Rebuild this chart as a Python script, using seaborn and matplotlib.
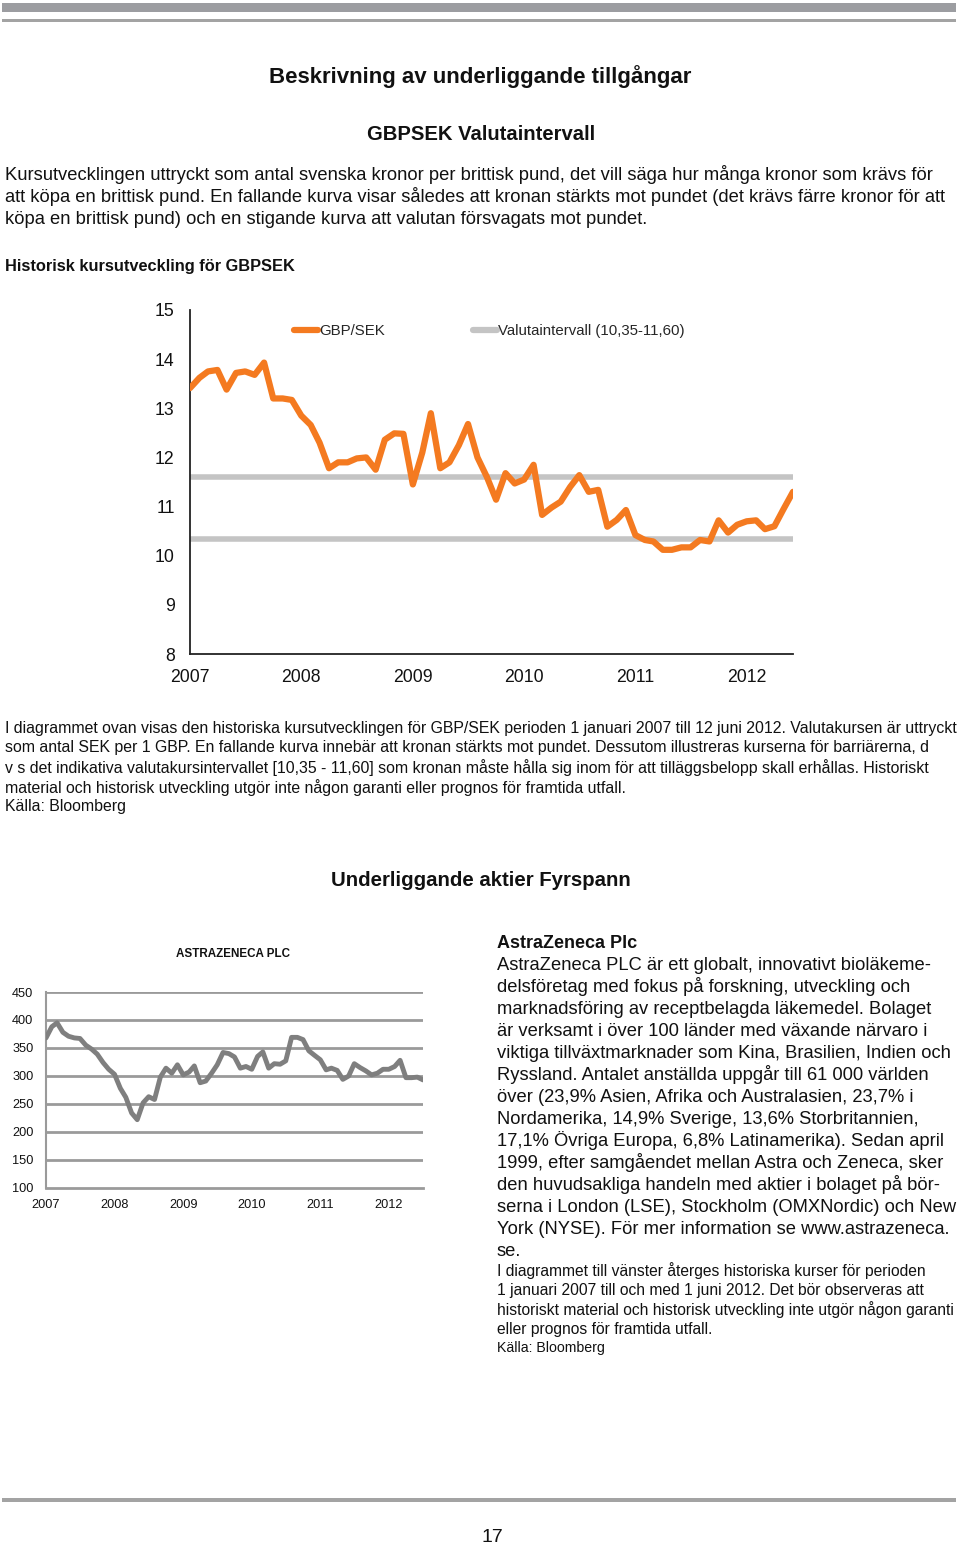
import numpy as np
import pandas as pd
import matplotlib
matplotlib.use("Agg")
import matplotlib.pyplot as plt
import seaborn as sns
from matplotlib.lines import Line2D
from matplotlib.patches import Rectangle

# ---------------- data ----------------
gbpsek_values = [13.41, 13.62, 13.75, 13.78, 13.38, 13.72, 13.75, 13.68, 13.93, 13.20,
                 13.20, 13.17, 12.85, 12.66, 12.30, 11.78, 11.90, 11.90, 11.98, 12.00,
                 11.75, 12.36, 12.49, 12.48, 11.45, 12.10, 12.90, 11.78, 11.90, 12.25,
                 12.68, 12.00, 11.60, 11.14, 11.68, 11.47, 11.55, 11.85, 10.83, 10.98,
                 11.10, 11.40, 11.64, 11.30, 11.34, 10.59, 10.73, 10.93, 10.42, 10.32,
                 10.29, 10.12, 10.12, 10.17, 10.17, 10.32, 10.29, 10.72, 10.47, 10.63,
                 10.70, 10.72, 10.54, 10.60, 10.95, 11.30]
gbpsek_dates = pd.date_range("2007-01-01", periods=len(gbpsek_values), freq="MS")
interval_low = 10.35
interval_high = 11.60
gbpsek_yticks = [8, 9, 10, 11, 12, 13, 14, 15]

azn_values = [368, 388, 395, 378, 371, 368, 367, 355, 348, 339,
              324, 312, 303, 278, 262, 234, 222, 252, 263, 258,
              298, 314, 305, 320, 302, 307, 318, 288, 291, 305,
              320, 342, 340, 334, 314, 317, 312, 335, 343, 314,
              322, 321, 327, 369, 369, 365, 345, 337, 329, 311,
              314, 310, 294, 300, 322, 315, 309, 302, 305, 312,
              312, 317, 328, 297, 297, 298, 293]
azn_dates = pd.date_range("2007-01-01", periods=len(azn_values), freq="MS")
azn_yticks = [100, 150, 200, 250, 300, 350, 400, 450]
year_ticks = [2007, 2008, 2009, 2010, 2011, 2012]

# ---------------- figure ----------------
W, H = 960, 1547
sns.set_style("white")
plt.rcParams["font.family"] = ["Liberation Sans", "DejaVu Sans"]
fig = plt.figure(figsize=(W / 100, H / 100), dpi=100)
fig.patch.set_facecolor("white")


def T(x, y, s, size, weight="normal", ha="left", va="center", color="#111111", **kw):
    return fig.text(x / W, 1 - y / H, s, fontsize=size, fontweight=weight, ha=ha, va=va,
                    color=color, **kw)


def rect(x0, y0, x1, y1, color):
    fig.patches.append(Rectangle((x0 / W, 1 - y1 / H), (x1 - x0) / W, (y1 - y0) / H,
                                 transform=fig.transFigure, color=color, lw=0))


def ax_box(l, t, r, b):
    return fig.add_axes([l / W, 1 - b / H, (r - l) / W, (b - t) / H])


# header / footer rules
rect(2, 3, 956, 12, "#9c9da1")
rect(2, 19, 956, 22, "#a3a3a3")
rect(2, 1498, 956, 1502, "#a3a3a3")

# titles
T(480, 77, "Beskrivning av underliggande tillgångar", 16, "bold", ha="center")
T(481, 135, "GBPSEK Valutaintervall", 14.6, "bold", ha="center")

para1 = ["Kursutvecklingen uttryckt som antal svenska kronor per brittisk pund, det vill säga hur många kronor som krävs för",
         "att köpa en brittisk pund. En fallande kurva visar således att kronan stärkts mot pundet (det krävs färre kronor för att",
         "köpa en brittisk pund) och en stigande kurva att valutan försvagats mot pundet."]
for i, line in enumerate(para1):
    T(5, 175 + 22 * i, line, 13.2)

T(5, 267, "Historisk kursutveckling för GBPSEK", 11.8, "bold")

# ---------------- GBPSEK chart ----------------
ax1 = ax_box(190, 310, 793, 654)
orange = "#f47a20"
grey_band = "#c4c4c4"
ax1.axhline(interval_high, color=grey_band, lw=4, solid_capstyle="butt", zorder=1)
ax1.axhline(interval_low, color=grey_band, lw=4, solid_capstyle="butt", zorder=1)
sns.lineplot(x=gbpsek_dates, y=gbpsek_values, ax=ax1, color=orange, lw=4.5,
             solid_joinstyle="round", solid_capstyle="round", zorder=3)
ax1.set_xlim(gbpsek_dates[0], gbpsek_dates[-1])
ax1.set_ylim(gbpsek_yticks[0], gbpsek_yticks[-1])
ax1.set_yticks(gbpsek_yticks)
ax1.set_yticklabels([str(v) for v in gbpsek_yticks])
ax1.set_xticks([pd.Timestamp(f"{y}-01-01") for y in year_ticks])
ax1.set_xticklabels([str(y) for y in year_ticks])
ax1.set_xlabel("")
ax1.set_ylabel("")
for s in ["top", "right"]:
    ax1.spines[s].set_visible(False)
for s in ["left", "bottom"]:
    ax1.spines[s].set_color("#222222")
    ax1.spines[s].set_linewidth(1.3)
ax1.tick_params(axis="both", direction="out", length=5, width=1.3, color="#222222",
                labelsize=12.7, labelcolor="#111111")
ax1.tick_params(axis="y", pad=6)
ax1.tick_params(axis="x", pad=6)
ax1.grid(False)
ax1.set_facecolor("white")

handles = [Line2D([0], [0], color=orange, lw=4.5, solid_capstyle="round"),
           Line2D([0], [0], color=grey_band, lw=4.5, solid_capstyle="round")]
ax1.legend(handles, ["GBP/SEK", "Valutaintervall (10,35-11,60)"], ncol=2, frameon=False,
           loc="center left", bbox_to_anchor=(294 / W, 1 - 331 / H),
           bbox_transform=fig.transFigure, fontsize=10.8, handlelength=1.6,
           handletextpad=0.05, columnspacing=5.9, borderaxespad=0, borderpad=0)

para2 = ["I diagrammet ovan visas den historiska kursutvecklingen för GBP/SEK perioden 1 januari 2007 till 12 juni 2012. Valutakursen är uttryckt",
         "som antal SEK per 1 GBP. En fallande kurva innebär att kronan stärkts mot pundet. Dessutom illustreras kurserna för barriärerna, d",
         "v s det indikativa valutakursintervallet [10,35 - 11,60] som kronan måste hålla sig inom för att tilläggsbelopp skall erhållas. Historiskt",
         "material och historisk utveckling utgör inte någon garanti eller prognos för framtida utfall.",
         "Källa: Bloomberg"]
for i, line in enumerate(para2):
    T(5, 728 + 19.7 * i, line, 11.4)

T(481, 880, "Underliggande aktier Fyrspann", 14.7, "bold", ha="center")

# ---------------- AstraZeneca chart ----------------
T(233, 954, "ASTRAZENECA PLC", 8.4, "bold", ha="center")
ax2 = ax_box(46, 992, 423, 1188)
grid_c = "#9a9a9a"
for v in azn_yticks[1:]:
    ax2.axhline(v, color=grid_c, lw=2, zorder=1)
sns.lineplot(x=azn_dates, y=azn_values, ax=ax2, color="#7f7f7f", lw=3.5,
             solid_joinstyle="round", zorder=3)
ax2.set_xlim(azn_dates[0], azn_dates[-1])
ax2.set_ylim(azn_yticks[0], azn_yticks[-1])
ax2.set_yticks(azn_yticks)
ax2.set_yticklabels([str(v) for v in azn_yticks])
ax2.set_xticks([pd.Timestamp(f"{y}-01-01") for y in year_ticks])
ax2.set_xticklabels([str(y) for y in year_ticks])
ax2.set_xlabel("")
ax2.set_ylabel("")
for s in ["top", "right"]:
    ax2.spines[s].set_visible(False)
ax2.spines["left"].set_color(grid_c)
ax2.spines["left"].set_linewidth(1.5)
ax2.spines["bottom"].set_color(grid_c)
ax2.spines["bottom"].set_linewidth(2)
ax2.tick_params(axis="both", direction="out", length=3, width=1.2, color=grid_c,
                labelsize=9.2, labelcolor="#111111")
ax2.tick_params(axis="y", pad=6)
ax2.tick_params(axis="x", pad=5)
ax2.grid(False)
ax2.set_facecolor("white")

# ---------------- right text block ----------------
T(497, 943, "AstraZeneca Plc", 13, "bold")
body = ["AstraZeneca PLC är ett globalt, innovativt bioläkeme-",
        "delsföretag med fokus på forskning, utveckling och",
        "marknadsföring av receptbelagda läkemedel. Bolaget",
        "är verksamt i över 100 länder med växande närvaro i",
        "viktiga tillväxtmarknader som Kina, Brasilien, Indien och",
        "Ryssland. Antalet anställda uppgår till 61 000 världen",
        "över (23,9% Asien, Afrika och Australasien, 23,7% i",
        "Nordamerika, 14,9% Sverige, 13,6% Storbritannien,",
        "17,1% Övriga Europa, 6,8% Latinamerika). Sedan april",
        "1999, efter samgåendet mellan Astra och Zeneca, sker",
        "den huvudsakliga handeln med aktier i bolaget på bör-",
        "serna i London (LSE), Stockholm (OMXNordic) och New",
        "York (NYSE). För mer information se www.astrazeneca.",
        "se."]
for i, line in enumerate(body):
    T(497, 965 + 22 * i, line, 13.2)

small = ["I diagrammet till vänster återges historiska kurser för perioden",
         "1 januari 2007 till och med 1 juni 2012. Det bör observeras att",
         "historiskt material och historisk utveckling inte utgör någon garanti",
         "eller prognos för framtida utfall."]
for i, line in enumerate(small):
    T(497, 1271 + 19.5 * i, line, 11.25)
T(497, 1348, "Källa: Bloomberg", 10.2)

T(492, 1538, "17", 14, ha="center")

fig.savefig("out.png", dpi=100, facecolor="white")
